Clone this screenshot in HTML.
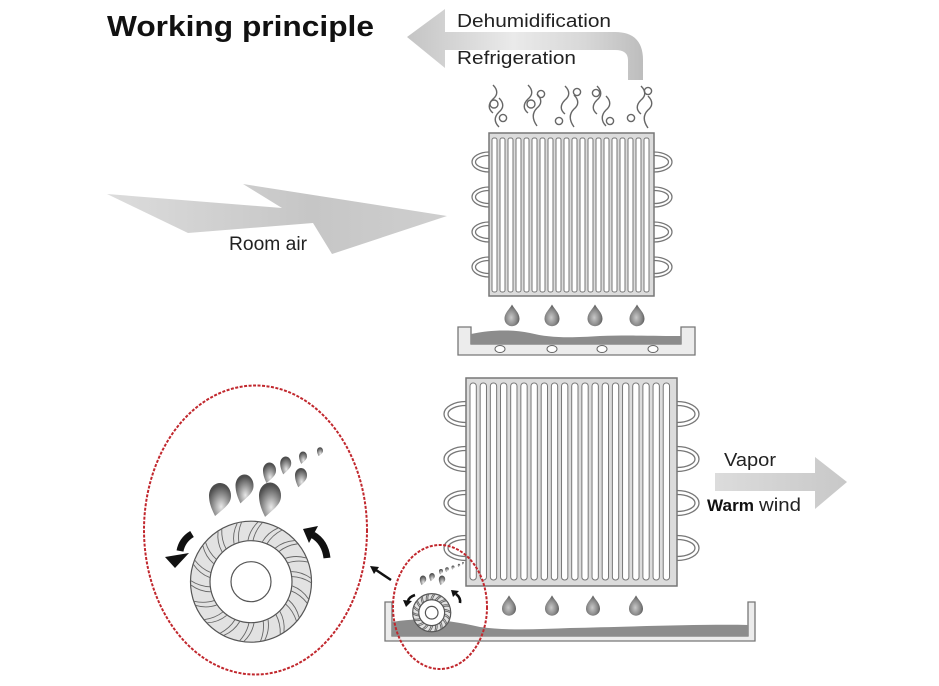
<!DOCTYPE html>
<html>
<head>
<meta charset="utf-8">
<style>
html,body{margin:0;padding:0;background:#fff;}
svg{display:block;}
text{font-family:"Liberation Sans",Arial,sans-serif;}
</style>
</head>
<body>
<svg width="939" height="686" viewBox="0 0 939 686" xmlns="http://www.w3.org/2000/svg">
<defs>
  <linearGradient id="gTop" x1="0" y1="0" x2="1" y2="0">
    <stop offset="0" stop-color="#c4c4c4"/>
    <stop offset="0.45" stop-color="#eaeaea"/>
    <stop offset="0.75" stop-color="#d8d8d8"/>
    <stop offset="1" stop-color="#bdbdbd"/>
  </linearGradient>
  <linearGradient id="gRoom" x1="0" y1="0" x2="1" y2="0">
    <stop offset="0" stop-color="#dcdcdc"/>
    <stop offset="0.6" stop-color="#c6c6c6"/>
    <stop offset="1" stop-color="#cfcfcf"/>
  </linearGradient>
  <linearGradient id="gVapor" x1="0" y1="0" x2="1" y2="0">
    <stop offset="0" stop-color="#dcdcdc"/>
    <stop offset="1" stop-color="#c8c8c8"/>
  </linearGradient>
  <radialGradient id="gDrop" cx="0.45" cy="0.6" r="0.6">
    <stop offset="0" stop-color="#c8c8c8"/>
    <stop offset="0.6" stop-color="#8a8a8a"/>
    <stop offset="1" stop-color="#555"/>
  </radialGradient>
  <radialGradient id="gBig" cx="0.55" cy="0.72" r="0.65">
    <stop offset="0" stop-color="#e8e8e8"/>
    <stop offset="0.5" stop-color="#9a9a9a"/>
    <stop offset="1" stop-color="#4e4e4e"/>
  </radialGradient>
  <path id="fdrop" d="M 0,-1.8 C 0.3,-1.2 1,-0.7 1,0.1 A 1,1 0 1 1 -1,0.1 C -1,-0.7 -0.3,-1.2 0,-1.8 Z"/>
  <path id="rdrop" d="M -0.45,1.75 C -0.75,1.2 -1,0.7 -1,0 A 1,1.05 0 1 1 1,0.1 C 1,0.7 0.4,1.1 -0.45,1.75 Z"/>
  <path id="bl" d="M -3,-41.5 Q -1,-52 7,-59.6 M 2,-41 Q 4,-51 11.5,-59.2" fill="none" stroke="#666" stroke-width="0.9" vector-effect="non-scaling-stroke"/>
  <g id="wheel">
    <circle r="60.5" fill="#e2e2e2" stroke="#555" stroke-width="1.2" vector-effect="non-scaling-stroke"/>
    <use href="#bl"/>
    <use href="#bl" transform="rotate(20)"/>
    <use href="#bl" transform="rotate(40)"/>
    <use href="#bl" transform="rotate(60)"/>
    <use href="#bl" transform="rotate(80)"/>
    <use href="#bl" transform="rotate(100)"/>
    <use href="#bl" transform="rotate(120)"/>
    <use href="#bl" transform="rotate(140)"/>
    <use href="#bl" transform="rotate(160)"/>
    <use href="#bl" transform="rotate(180)"/>
    <use href="#bl" transform="rotate(200)"/>
    <use href="#bl" transform="rotate(220)"/>
    <use href="#bl" transform="rotate(240)"/>
    <use href="#bl" transform="rotate(260)"/>
    <use href="#bl" transform="rotate(280)"/>
    <use href="#bl" transform="rotate(300)"/>
    <use href="#bl" transform="rotate(320)"/>
    <use href="#bl" transform="rotate(340)"/>
    <circle r="41" fill="#fff" stroke="#555" stroke-width="1.2" vector-effect="non-scaling-stroke"/>
    <circle r="20" fill="#fff" stroke="#555" stroke-width="1.2" vector-effect="non-scaling-stroke"/>
  </g>
</defs>

<!-- Title -->
<text x="107" y="36" font-size="29" font-weight="bold" fill="#111" textLength="267" lengthAdjust="spacingAndGlyphs">Working principle</text>

<!-- Top bent arrow -->
<path d="M407,37 L445,9 L445,32 L615,32 Q643,32 643,60 L643,80 L628,80 L628,60 Q628,50 615,50 L445,50 L445,68 Z" fill="url(#gTop)"/>
<text x="457" y="27" font-size="18.5" fill="#222" textLength="154" lengthAdjust="spacingAndGlyphs">Dehumidification</text>
<text x="457" y="64" font-size="18.5" fill="#222" textLength="119" lengthAdjust="spacingAndGlyphs">Refrigeration</text>

<!-- vapor squiggles -->
<g fill="none" stroke="#666" stroke-width="1.4">
  <path d="M493,85 c5,5 5,10 0,14 c-5,5 -5,10 0,14"/>
  <path d="M499,98 c5,5 5,10 0,14 c-5,5 -5,10 0,15"/>
  <circle cx="494" cy="104" r="4"/>
  <circle cx="503" cy="118" r="3.6"/>

  <path d="M528,85 c5,5 5,10 0,14 c-5,5 -5,10 0,14"/>
  <path d="M537,94 c5,5 5,10 0,14 c-5,5 -5,11 0,18"/>
  <circle cx="531" cy="104" r="4"/>
  <circle cx="541" cy="94" r="3.6"/>

  <path d="M565,86 c5,5 5,10 0,14 c-5,5 -5,10 0,14"/>
  <path d="M574,95 c5,5 5,10 0,14 c-5,5 -5,11 0,18"/>
  <circle cx="577" cy="92" r="3.6"/>
  <circle cx="559" cy="121" r="3.6"/>

  <path d="M597,86 c5,5 5,10 0,14 c-5,5 -5,10 0,14"/>
  <path d="M606,96 c5,5 5,10 0,14 c-5,5 -5,11 0,16"/>
  <circle cx="596" cy="93" r="3.6"/>
  <circle cx="610" cy="121" r="3.6"/>

  <path d="M641,86 c5,5 5,10 0,14 c-5,5 -5,10 0,14"/>
  <path d="M648,96 c5,5 5,10 0,14 c-5,5 -5,11 0,18"/>
  <circle cx="648" cy="91" r="3.6"/>
  <circle cx="631" cy="118" r="3.6"/>
</g>

<!-- Room air arrow -->
<polygon points="107,194 282,208 243,184 447,216 332,254 313,223 188,233" fill="url(#gRoom)"/>
<text x="229" y="250" font-size="19" fill="#222" textLength="78" lengthAdjust="spacingAndGlyphs">Room air</text>

<!-- Upper coil loops -->
<g fill="none" stroke="#777" stroke-width="1.3">
  <ellipse cx="489" cy="162" rx="17" ry="10"/><ellipse cx="489" cy="162" rx="13.5" ry="6.5"/>
  <ellipse cx="489" cy="197" rx="17" ry="10"/><ellipse cx="489" cy="197" rx="13.5" ry="6.5"/>
  <ellipse cx="489" cy="232" rx="17" ry="10"/><ellipse cx="489" cy="232" rx="13.5" ry="6.5"/>
  <ellipse cx="489" cy="267" rx="17" ry="10"/><ellipse cx="489" cy="267" rx="13.5" ry="6.5"/>
  <ellipse cx="654" cy="162" rx="18" ry="10"/><ellipse cx="654" cy="162" rx="14.5" ry="6.5"/>
  <ellipse cx="654" cy="197" rx="18" ry="10"/><ellipse cx="654" cy="197" rx="14.5" ry="6.5"/>
  <ellipse cx="654" cy="232" rx="18" ry="10"/><ellipse cx="654" cy="232" rx="14.5" ry="6.5"/>
  <ellipse cx="654" cy="267" rx="18" ry="10"/><ellipse cx="654" cy="267" rx="14.5" ry="6.5"/>
</g>
<!-- Upper coil frame -->
<rect x="489" y="133" width="165" height="163" fill="#dcdcdc" stroke="#777" stroke-width="1.5"/>
<g fill="#fff" stroke="#777" stroke-width="1">
  <rect x="492" y="138" width="5" height="154" rx="2"/>
  <rect x="500" y="138" width="5" height="154" rx="2"/>
  <rect x="508" y="138" width="5" height="154" rx="2"/>
  <rect x="516" y="138" width="5" height="154" rx="2"/>
  <rect x="524" y="138" width="5" height="154" rx="2"/>
  <rect x="532" y="138" width="5" height="154" rx="2"/>
  <rect x="540" y="138" width="5" height="154" rx="2"/>
  <rect x="548" y="138" width="5" height="154" rx="2"/>
  <rect x="556" y="138" width="5" height="154" rx="2"/>
  <rect x="564" y="138" width="5" height="154" rx="2"/>
  <rect x="572" y="138" width="5" height="154" rx="2"/>
  <rect x="580" y="138" width="5" height="154" rx="2"/>
  <rect x="588" y="138" width="5" height="154" rx="2"/>
  <rect x="596" y="138" width="5" height="154" rx="2"/>
  <rect x="604" y="138" width="5" height="154" rx="2"/>
  <rect x="612" y="138" width="5" height="154" rx="2"/>
  <rect x="620" y="138" width="5" height="154" rx="2"/>
  <rect x="628" y="138" width="5" height="154" rx="2"/>
  <rect x="636" y="138" width="5" height="154" rx="2"/>
  <rect x="644" y="138" width="5" height="154" rx="2"/>
</g>

<!-- Upper drops -->
<g fill="url(#gDrop)">
  <use href="#fdrop" transform="translate(512,318) scale(7.5)"/>
  <use href="#fdrop" transform="translate(552,318) scale(7.5)"/>
  <use href="#fdrop" transform="translate(595,318) scale(7.5)"/>
  <use href="#fdrop" transform="translate(637,318) scale(7.5)"/>
</g>

<!-- Upper tray -->
<polygon points="458,327 471,327 471,344 681,344 681,327 695,327 695,355 458,355" fill="#ececec" stroke="#777" stroke-width="1.3"/>
<path d="M471,334 C490,330 510,329 530,333 C550,338 570,338 600,336 C630,335 660,336 681,336 V344 H471 Z" fill="#8c8c8c"/>
<g fill="#fff" stroke="#666" stroke-width="1">
  <ellipse cx="500" cy="349" rx="5" ry="3.5"/>
  <ellipse cx="552" cy="349" rx="5" ry="3.5"/>
  <ellipse cx="602" cy="349" rx="5" ry="3.5"/>
  <ellipse cx="653" cy="349" rx="5" ry="3.5"/>
</g>

<!-- Lower coil loops -->
<g fill="none" stroke="#777" stroke-width="1.3">
  <ellipse cx="466" cy="414" rx="22" ry="12.5"/><ellipse cx="466" cy="414" rx="18" ry="8.5"/>
  <ellipse cx="466" cy="459" rx="22" ry="12.5"/><ellipse cx="466" cy="459" rx="18" ry="8.5"/>
  <ellipse cx="466" cy="503" rx="22" ry="12.5"/><ellipse cx="466" cy="503" rx="18" ry="8.5"/>
  <ellipse cx="466" cy="548" rx="22" ry="12.5"/><ellipse cx="466" cy="548" rx="18" ry="8.5"/>
  <ellipse cx="677" cy="414" rx="22" ry="12.5"/><ellipse cx="677" cy="414" rx="18" ry="8.5"/>
  <ellipse cx="677" cy="459" rx="22" ry="12.5"/><ellipse cx="677" cy="459" rx="18" ry="8.5"/>
  <ellipse cx="677" cy="503" rx="22" ry="12.5"/><ellipse cx="677" cy="503" rx="18" ry="8.5"/>
  <ellipse cx="677" cy="548" rx="22" ry="12.5"/><ellipse cx="677" cy="548" rx="18" ry="8.5"/>
</g>
<rect x="466" y="378" width="211" height="208" fill="#dcdcdc" stroke="#777" stroke-width="1.5"/>
<g fill="#fff" stroke="#777" stroke-width="1">
  <rect x="470" y="383" width="6.3" height="197" rx="3"/>
  <rect x="480.17" y="383" width="6.3" height="197" rx="3"/>
  <rect x="490.34" y="383" width="6.3" height="197" rx="3"/>
  <rect x="500.51" y="383" width="6.3" height="197" rx="3"/>
  <rect x="510.68" y="383" width="6.3" height="197" rx="3"/>
  <rect x="520.85" y="383" width="6.3" height="197" rx="3"/>
  <rect x="531.02" y="383" width="6.3" height="197" rx="3"/>
  <rect x="541.19" y="383" width="6.3" height="197" rx="3"/>
  <rect x="551.36" y="383" width="6.3" height="197" rx="3"/>
  <rect x="561.53" y="383" width="6.3" height="197" rx="3"/>
  <rect x="571.7" y="383" width="6.3" height="197" rx="3"/>
  <rect x="581.87" y="383" width="6.3" height="197" rx="3"/>
  <rect x="592.04" y="383" width="6.3" height="197" rx="3"/>
  <rect x="602.21" y="383" width="6.3" height="197" rx="3"/>
  <rect x="612.38" y="383" width="6.3" height="197" rx="3"/>
  <rect x="622.55" y="383" width="6.3" height="197" rx="3"/>
  <rect x="632.72" y="383" width="6.3" height="197" rx="3"/>
  <rect x="642.89" y="383" width="6.3" height="197" rx="3"/>
  <rect x="653.06" y="383" width="6.3" height="197" rx="3"/>
  <rect x="663.23" y="383" width="6.3" height="197" rx="3"/>
</g>

<!-- Lower drops -->
<g fill="url(#gDrop)">
  <use href="#fdrop" transform="translate(509,608) scale(7)"/>
  <use href="#fdrop" transform="translate(552,608) scale(7)"/>
  <use href="#fdrop" transform="translate(593,608) scale(7)"/>
  <use href="#fdrop" transform="translate(636,608) scale(7)"/>
</g>

<!-- Lower tray -->
<polygon points="385,602 392,602 392,636 748,636 748,602 755,602 755,641 385,641" fill="#ececec" stroke="#777" stroke-width="1.3"/>
<path d="M392,622 C420,617 450,620 480,627 C510,631 540,629 570,628 C620,627 700,624 748,625 V636 H392 Z" fill="#8c8c8c"/>

<!-- Vapor arrow -->
<polygon points="715,473 815,473 815,457 847,482 815,509 815,491 715,491" fill="url(#gVapor)"/>
<text x="724" y="466" font-size="18" fill="#222" textLength="52" lengthAdjust="spacingAndGlyphs">Vapor</text>
<text x="707" y="511" font-size="16.5" font-weight="bold" fill="#111" textLength="47" lengthAdjust="spacingAndGlyphs">Warm</text>
<text x="759" y="511" font-size="18" fill="#222" textLength="42" lengthAdjust="spacingAndGlyphs">wind</text>

<!-- Small wheel in tray -->
<use href="#wheel" transform="translate(431.7,612.7) scale(0.315)"/>
<!-- small drops -->
<g fill="url(#gBig)">
  <use href="#rdrop" transform="translate(423,579) scale(3.2,3.5)"/>
  <use href="#rdrop" transform="translate(432,576) scale(2.8,3)"/>
  <use href="#rdrop" transform="translate(442,579) scale(3.2,3.5)"/>
  <use href="#rdrop" transform="translate(441,571) scale(2)"/>
  <use href="#rdrop" transform="translate(447,569) scale(1.8)"/>
  <use href="#rdrop" transform="translate(453,567) scale(1.5)"/>
  <use href="#rdrop" transform="translate(459,565) scale(1.2)"/>
  <use href="#rdrop" transform="translate(463,563) scale(1)"/>
</g>
<!-- small rotation arrows -->
<path d="M415,595 Q409,597 408,601" fill="none" stroke="#111" stroke-width="2.6"/>
<polygon points="403,600 412,601 406,607" fill="#111"/>
<path d="M460,603 Q461,598 456,594" fill="none" stroke="#111" stroke-width="2.6"/>
<polygon points="451,590 459,591 453,597" fill="#111"/>

<!-- Small red ellipse -->
<ellipse cx="440" cy="607" rx="47" ry="62" fill="none" stroke="#c1272d" stroke-width="2" stroke-dasharray="3 1.5"/>

<!-- pointer arrow -->
<line x1="391" y1="580" x2="376" y2="570" stroke="#111" stroke-width="2.5"/>
<polygon points="370,566 379,567 374,574" fill="#111"/>

<!-- Big red ellipse -->
<ellipse cx="255.5" cy="530" rx="111.5" ry="144.5" fill="none" stroke="#c1272d" stroke-width="2" stroke-dasharray="3 1.5"/>

<!-- Big wheel -->
<use href="#wheel" transform="translate(251,581.7)"/>

<!-- Big drops -->
<g fill="url(#gBig)">
  <use href="#rdrop" transform="translate(220,495) scale(11,12)"/>
  <use href="#rdrop" transform="translate(244.5,485) scale(9,10.5)"/>
  <use href="#rdrop" transform="translate(270,495) scale(11,12.5)"/>
  <use href="#rdrop" transform="translate(269.5,470) scale(6.5,7.5)"/>
  <use href="#rdrop" transform="translate(285.7,463) scale(5.5,6.5)"/>
  <use href="#rdrop" transform="translate(301,475) scale(6,7)"/>
  <use href="#rdrop" transform="translate(303,456) scale(4,4.5)"/>
  <use href="#rdrop" transform="translate(320,450.5) scale(3,3.2)"/>
</g>

<!-- Big rotation arrows -->
<path d="M192,534 Q182,540 180,551" fill="none" stroke="#111" stroke-width="7"/>
<polygon points="165,557 189,553 175,568" fill="#111"/>
<path d="M327,558 Q325,542 313,535" fill="none" stroke="#111" stroke-width="7"/>
<polygon points="303,529 318,526 309,543" fill="#111"/>
</svg>
</body>
</html>
